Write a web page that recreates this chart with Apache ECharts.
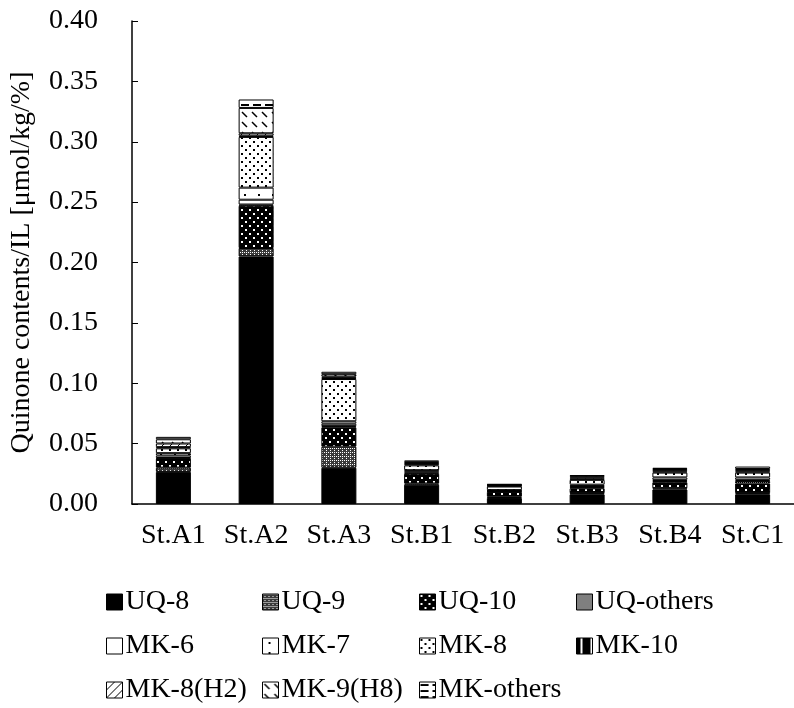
<!DOCTYPE html>
<html>
<head>
<meta charset="utf-8">
<script src="https://cdn.jsdelivr.net/npm/echarts@6/dist/echarts.min.js"></script>
<style>html,body{margin:0;padding:0;background:#fff;}#c{width:794px;height:708px;}</style>
</head>
<body>
<div id="c"></div>
<script>
const categories = ['St.A1','St.A2','St.A3','St.B1','St.B2','St.B3','St.B4','St.C1'];
const yTicks = [0,0.05,0.10,0.15,0.20,0.25,0.30,0.35,0.40];
const seriesNames = ['UQ-8','UQ-9','UQ-10','UQ-others','MK-6','MK-7','MK-8','MK-10','MK-8(H2)','MK-9(H8)','MK-others'];
const uq8      = [0.0266,0.205,0.030,0.016,0.005,0.008,0.012,0.008];
const uq9      = [0.0035,0.007,0.0175,0.001,0.001,0.001,0.001,0.001];
const uq10     = [0.0075,0.035,0.016,0.008,0.004,0.004,0.005,0.008];
const uqOthers = [0.0005,0.001,0.001,0.001,0.0005,0.001,0.001,0.002];
const mk6      = [0.002,0.004,0.002,0.001,0.0005,0.001,0.001,0.001];
const mk7      = [0.002,0.010,0.002,0.001,0.0005,0.001,0.002,0.002];
const mk8      = [0.004,0.042,0.035,0.004,0.003,0.004,0.004,0.004];
const mk10     = [0.001,0.001,0.001,0.001,0.0005,0.001,0.001,0.001];
const mk8h2    = [0.003,0.002,0.001,0.001,0.0005,0.001,0.001,0.001];
const mk9h8    = [0.0035,0.021,0.002,0.001,0.0005,0.001,0.001,0.001];
const mkOthers = [0.002,0.007,0.002,0.001,0.0005,0.001,0.001,0.002];
const values = [uq8,uq9,uq10,uqOthers,mk6,mk7,mk8,mk10,mk8h2,mk9h8,mkOthers];

function pat(w,h,bg,draw){
  const c=document.createElement('canvas'); c.width=w; c.height=h;
  const g=c.getContext('2d'); g.fillStyle=bg; g.fillRect(0,0,w,h);
  if(draw) draw(g);
  return {image:c, repeat:'repeat'};
}
const fills = [
  '#000000',
  pat(4,4,'#3a3a3a',g=>{g.fillStyle='#ffffff';g.fillRect(0,0,1,1);g.fillRect(2,2,1,1);g.fillRect(2,0,1,1);}),
  pat(8,8,'#000000',g=>{g.fillStyle='#ffffff';g.fillRect(1,1,2,2);g.fillRect(5,5,2,2);}),
  pat(2,2,'#ffffff',g=>{g.fillStyle='#000';g.fillRect(0,0,1,1);g.fillRect(1,1,1,1);}),
  '#ffffff',
  pat(14,10,'#ffffff',g=>{g.fillStyle='#000';g.fillRect(6,4,2,2);}),
  pat(8,8,'#ffffff',g=>{g.fillStyle='#000';g.fillRect(1,1,2,2);g.fillRect(5,5,2,2);}),
  pat(10,10,'#000000',g=>{g.fillStyle='#fff';g.fillRect(4,0,2,10);}),
  pat(8,8,'#ffffff',g=>{g.strokeStyle='#000';g.lineWidth=1;g.beginPath();g.moveTo(0,8);g.lineTo(8,0);g.stroke();}),
  pat(10,10,'#ffffff',g=>{g.strokeStyle='#000';g.lineWidth=1.5;g.beginPath();g.moveTo(2,2);g.lineTo(7,7);g.stroke();}),
  pat(12,6,'#ffffff',g=>{g.fillStyle='#000';g.fillRect(1,2,8,2);})
];

const FONT = 'Liberation Serif';
const FS = 28;
const series = seriesNames.map((n,i)=>({
  name:n, type:'bar', stack:'q', data:values[i], barWidth:35,
  itemStyle:{color:fills[i], borderColor:'#000', borderWidth:1},
  emphasis:{disabled:true}
}));

const cols = [
  ['UQ-8','MK-6','MK-8(H2)'],
  ['UQ-9','MK-7','MK-9(H8)'],
  ['UQ-10','MK-8','MK-others'],
  ['UQ-others','MK-10']
];
const colLeft = [106,262,419,576];
const legends = cols.map((d,i)=>({
  data:d, orient:'vertical', left:colLeft[i], top:588, itemWidth:16, itemHeight:16,
  itemGap:16, icon:'rect', selectedMode:false, padding:0,
  itemStyle:{borderColor:'#000', borderWidth:1},
  textStyle:{fontFamily:FONT, fontSize:FS, color:'#000', lineHeight:28, padding:[0,0,0,-2]}
}));

const chart = echarts.init(document.getElementById('c'), null, {renderer:'canvas'});
chart.setOption({
  animation:false,
  backgroundColor:'#fff',
  grid:{left:128, top:21, width:676, height:483},
  legend:legends,
  xAxis:{
    type:'category', data:categories,
    axisLine:{lineStyle:{color:'#000', width:1.5}},
    axisTick:{show:false},
    axisLabel:{fontFamily:FONT, fontSize:FS, color:'#000', margin:18, interval:0}
  },
  yAxis:{
    type:'value', min:0, max:0.4, interval:0.05,
    name:'Quinone contents/IL [μmol/kg/%]', nameLocation:'middle', nameGap:96,
    nameTextStyle:{fontFamily:FONT, fontSize:FS, color:'#000'},
    axisLine:{show:true, lineStyle:{color:'#000', width:1.5}},
    axisTick:{show:true, inside:true, length:6, lineStyle:{color:'#000'}},
    splitLine:{show:false},
    axisLabel:{fontFamily:FONT, fontSize:FS, color:'#000', margin:34,
      formatter:v=>{const t=yTicks.find(x=>Math.abs(x-v)<1e-9); return (t===undefined?v:t).toFixed(2);}}
  },
  series:series
});
</script>
</body>
</html>
